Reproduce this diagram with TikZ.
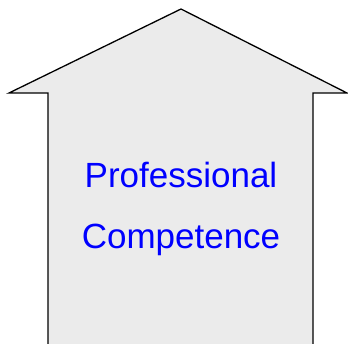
\documentclass[tikz,border=0pt]{standalone}
\usepackage{fontspec}
\setmainfont{Liberation Sans}

\begin{document}
\begin{tikzpicture}[x=1pt,y=-1pt,
  label text/.style={text=blue,font=\fontsize{35}{40}\selectfont,anchor=base,inner sep=0pt}]
  \useasboundingbox (0,0) rectangle (348,344);
  \filldraw[fill=black!8,draw=black,line width=1.3pt,line join=miter]
    (48,344) -- (48,93) -- (9,93) -- (181,9) -- (347,93) -- (313,93) -- (313,344);
  \node[label text] (top) at (181,188) {Professional};
  \node[label text] (bot) at (181,249) {Competence};

\end{tikzpicture}
\end{document}
